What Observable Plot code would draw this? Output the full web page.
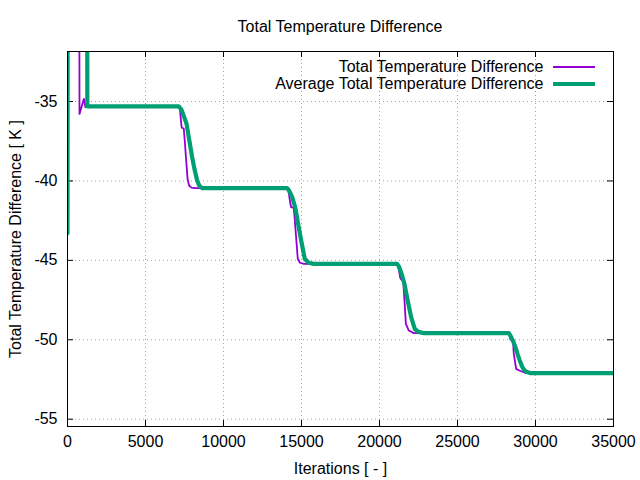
<!DOCTYPE html>
<html>
<head>
<meta charset="utf-8">
<script src="https://cdn.jsdelivr.net/npm/d3@7"></script>
<script src="https://cdn.jsdelivr.net/npm/@observablehq/plot@0.6"></script>
<style>
  body { margin: 0; background: white; }
  #wrap { position: relative; width: 640px; height: 480px; font-family: "Liberation Sans", Arial, sans-serif; }
  #title { height: 40px; width: 546px; margin-left: 67px; text-align: center; font-size: 16px; line-height: 16px; padding-top: 19px; box-sizing: border-box; color: black; }
  .leg-text { position: absolute; font-size: 16px; line-height: 18px; white-space: nowrap; text-align: right; color: black; }
  .leg-line { position: absolute; }
</style>
</head>
<body>
<div id="wrap">
  <div id="title"></div>
  <div id="chart"></div>
</div>
<script>
const titleText = "Total Temperature Difference";
const xLabel = "Iterations [ - ]";
const yLabel = "Total Temperature Difference [ K ]";
const seriesNames = ["Total Temperature Difference", "Average Total Temperature Difference"];
const seriesColors = ["#9400d3", "#009e73"];

const xTicks = [0, 5000, 10000, 15000, 20000, 25000, 30000, 35000];
const yTicks = [-55, -50, -45, -40, -35];

// Total Temperature Difference (raw)
const rawIter = [0, 40, 700, 770, 1050, 1150, 1250, 1400,
  7130, 7200, 7300, 7330, 7450, 7520, 7600, 7700, 7800, 7950, 8150,
  14080, 14150, 14300, 14340, 14500, 14550, 14680, 14760, 14900, 15150,
  21130, 21200, 21330, 21360, 21520, 21600, 21690, 21880, 22200,
  28290, 28330, 28400, 28560, 28610, 28760, 29000, 29360, 35000];
const rawValue = [-43.3, 5, 5, -35.78, -34.83, -35.36, -35.2, -35.3,
  -35.3, -35.4, -36.5, -36.65, -36.7, -37.5, -38.6, -39.9, -40.3, -40.42, -40.45,
  -40.45, -40.55, -41.5, -41.65, -41.7, -42.2, -43.86, -44.9, -45.15, -45.22,
  -45.22, -45.35, -46.1, -46.17, -46.3, -47.5, -49.0, -49.42, -49.58,
  -49.58, -49.7, -50.0, -50.1, -50.89, -51.83, -51.95, -52.08, -52.1];

// Average Total Temperature Difference
const avgIter = [0, 30, 1240, 1270, 1500,
  7130, 7300, 7450, 7630, 7800, 7990, 8150, 8310, 8450, 8630,
  14080, 14200, 14400, 14620, 14800, 15000, 15210, 15450, 15790,
  21130, 21250, 21400, 21600, 21800, 22030, 22260, 22500, 22840,
  28290, 28400, 28550, 28720, 28850, 28990, 29150, 29310, 29500, 29680, 35000];
const avgValue = [-43.3, 5, 5, -35.3, -35.3,
  -35.3, -35.5, -35.9, -36.4, -37.4, -38.5, -39.3, -39.97, -40.3, -40.45,
  -40.45, -40.6, -41.0, -41.76, -42.8, -43.86, -44.9, -45.15, -45.22,
  -45.22, -45.4, -45.8, -46.48, -47.5, -48.58, -49.32, -49.5, -49.58,
  -49.58, -49.75, -50.05, -50.47, -50.9, -51.3, -51.7, -51.94, -52.05, -52.1, -52.1];

const rawData = rawIter.map((it, i) => ({iter: it, value: rawValue[i]}));
const avgData = avgIter.map((it, i) => ({iter: it, value: avgValue[i]}));

document.getElementById("title").textContent = titleText;

const W = 640, H = 440;
const mT = 11, mB = 54, mL = 67, mR = 27;
const innerW = W - mL - mR, innerH = H - mT - mB;
const tick = 6;
const gridStyle = {stroke: "#a0a0a0", strokeOpacity: 1, strokeWidth: 1, strokeDasharray: "1,3"};

const chart = Plot.plot({
  width: W, height: H,
  marginTop: mT, marginBottom: mB, marginLeft: mL, marginRight: mR,
  style: {fontFamily: "Liberation Sans, Arial, sans-serif", fontSize: "16px", background: "white", color: "black"},
  x: {domain: [0, 35000]},
  y: {domain: [-55.46, -31.85]},
  marks: [
    Plot.gridX(xTicks.slice(1, -1), gridStyle),
    Plot.gridY(yTicks, gridStyle),
    Plot.tickX(xTicks, {x: d => d, insetTop: innerH - tick, stroke: "black"}),
    Plot.tickX(xTicks, {x: d => d, insetBottom: innerH - tick, stroke: "black"}),
    Plot.tickY(yTicks, {y: d => d, insetRight: innerW - tick, stroke: "black"}),
    Plot.tickY(yTicks, {y: d => d, insetLeft: innerW - tick, stroke: "black"}),
    Plot.axisX(xTicks, {tickSize: 0, tickPadding: 9, tickFormat: d => String(d), label: null, fontSize: 16}),
    Plot.axisY(yTicks, {tickSize: 0, tickPadding: 10, tickFormat: d => String(d), label: null, fontSize: 16}),
    Plot.line(rawData, {x: "iter", y: "value", stroke: seriesColors[0], strokeWidth: 1.8, clip: true, strokeLinejoin: "round"}),
    Plot.line(avgData, {x: "iter", y: "value", stroke: seriesColors[1], strokeWidth: 4.2, clip: true, strokeLinejoin: "round"}),
    Plot.frame({stroke: "black", strokeWidth: 1}),
    Plot.text([xLabel], {text: d => d, frameAnchor: "bottom", dy: 42, fontSize: 16, lineAnchor: "middle", textAnchor: "middle"}),
    Plot.text([yLabel], {text: d => d, frameAnchor: "left", dx: -52, rotate: -90, fontSize: 16, lineAnchor: "middle", textAnchor: "middle"})
  ]
});
document.getElementById("chart").appendChild(chart);

// Legend overlay (top-right inside plot)
const wrap = document.getElementById("wrap");
const rowY = [66.7, 83.7];
const lineW = [2, 4];
seriesNames.forEach((name, i) => {
  const t = document.createElement("div");
  t.className = "leg-text";
  t.textContent = name;
  t.style.right = (640 - 543.5) + "px";
  t.style.top = (rowY[i] - 9) + "px";
  wrap.appendChild(t);
  const l = document.createElement("div");
  l.className = "leg-line";
  l.style.left = "553px";
  l.style.width = "42px";
  l.style.height = lineW[i] + "px";
  l.style.top = (rowY[i] - lineW[i] / 2) + "px";
  l.style.background = seriesColors[i];
  wrap.appendChild(l);
});
</script>
</body>
</html>
